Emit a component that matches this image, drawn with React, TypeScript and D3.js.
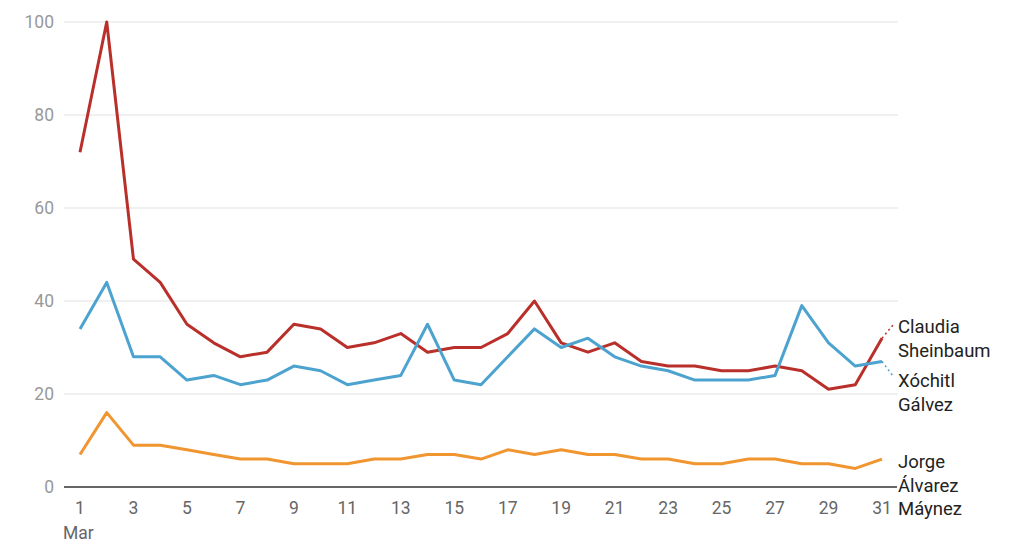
import React from "react";
import * as d3 from "d3";

const days = d3.range(1, 32);
const claudia = [72, 100, 49, 44, 35, 31, 28, 29, 35, 34, 30, 31, 33, 29, 30, 30, 33, 40, 31, 29, 31, 27, 26, 26, 25, 25, 26, 25, 21, 22, 32];
const xochitl = [34, 44, 28, 28, 23, 24, 22, 23, 26, 25, 22, 23, 24, 35, 23, 22, 28, 34, 30, 32, 28, 26, 25, 23, 23, 23, 24, 39, 31, 26, 27];
const jorge = [7, 16, 9, 9, 8, 7, 6, 6, 5, 5, 5, 6, 6, 7, 7, 6, 8, 7, 8, 7, 7, 6, 6, 5, 5, 6, 6, 5, 5, 4, 6];
const yTicks = [0, 20, 40, 60, 80, 100];
const xTicks = d3.range(1, 32, 2);

const series = [
  { name: ["Claudia", "Sheinbaum"], values: claudia, color: "#b9302b", labelY: 333, endY: 325 },
  { name: ["Xóchitl", "Gálvez"], values: xochitl, color: "#4da3cf", labelY: 387, endY: 376 },
  { name: ["Jorge", "Álvarez", "Máynez"], values: jorge, color: "#f0952f", labelY: 468, endY: null },
];

export default function App() {
  const x = d3.scaleLinear().domain([1, 31]).range([80, 882]);
  const y = d3.scaleLinear().domain([0, 100]).range([487, 22]);
  const line = d3.line<number>().x((_, i) => x(days[i])).y((d) => y(d));
  const font = "Roboto, 'Noto Sans', sans-serif";
  return (
    <svg width={1024} height={551} style={{ position: "absolute", left: 0, top: 0, background: "#fff" }}>
      {yTicks.map((t) => (
        <g key={t}>
          {t !== 0 && <line x1={64} x2={898} y1={y(t)} y2={y(t)} stroke="#e2e2e2" strokeWidth={1.2} />}
          <text x={54} y={y(t)} dy="0.35em" textAnchor="end" fill="#999" fontSize={17.5} fontFamily={font}>{t}</text>
        </g>
      ))}
      <line x1={64} x2={897} y1={y(0)} y2={y(0)} stroke="#333" strokeWidth={1.5} />
      {xTicks.map((t) => (
        <text key={t} x={x(t)} y={514} textAnchor="middle" fill="#666" fontSize={17.5} fontFamily={font}>{t}</text>
      ))}
      <text x={63} y={539} fill="#666" fontSize={17.5} fontFamily={font}>Mar</text>
      {series.map((s) => (
        <g key={s.name[0]}>
          <path d={line(s.values) || ""} fill="none" stroke={s.color} strokeWidth={3} strokeLinejoin="round" />
          {s.endY !== null && (
            <line x1={x(31)} y1={y(s.values[30])} x2={893} y2={s.endY} stroke={s.color} strokeWidth={1.5} strokeDasharray="2,3" />
          )}
          {s.name.map((n, i) => (
            <text key={n} x={898} y={s.labelY + i * 23.5} fill="#222" fontSize={18.5} fontFamily={font}>{n}</text>
          ))}
        </g>
      ))}
    </svg>
  );
}
